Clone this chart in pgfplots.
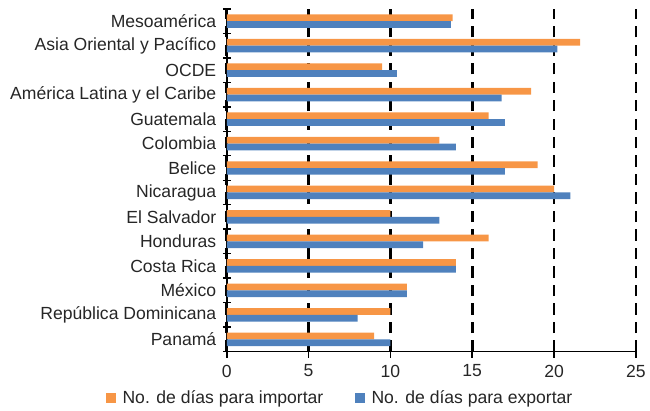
\documentclass[border=0pt]{standalone}
\usepackage{fontspec}
\setmainfont{Liberation Sans}
\usepackage{pgfplots}
\pgfplotsset{compat=1.18}

\definecolor{importar}{RGB}{247,150,70}
\definecolor{exportar}{RGB}{79,129,189}
\definecolor{txt}{RGB}{38,38,38}
\newcommand\lblfont{\fontsize{13.3pt}{16pt}\selectfont}

\begin{document}
\begin{tikzpicture}
\begin{axis}[
    name=ax,
    scale only axis,
    width=309.75pt, height=259.5pt,
    xmin=0, xmax=25, ymin=-0.5, ymax=13.5,
    axis x line=bottom, axis y line=left,
    axis line style={-, black, line width=1.1pt},
    xtick={0,5,...,25},
    ytick={0,...,13},
    yticklabels={Panamá, República Dominicana, México, Costa Rica, Honduras,
        El Salvador, Nicaragua, Belice, Colombia, Guatemala,
        América Latina y el Caribe, OCDE, Asia Oriental y Pacífico, Mesoamérica},
    minor ytick={-0.5,0.5,...,13.5},
    tick align=center,
    major tick length=9pt, minor tick length=6pt,
    major x tick style={black, line width=1.1pt},
    major y tick style={draw=none},
    minor y tick style={black, line width=1.1pt},
    xmajorgrids,
    major grid style={black, line width=2pt, dash pattern=on 8.5pt off 5.5pt},
    /pgf/number format/assume math mode=true,
    x tick label style={font=\lblfont, text=txt, yshift=-2pt},
    y tick label style={font=\lblfont, text=txt},
    legend style={at={(0.278,-0.136)}, anchor=center, draw=none,
        legend columns=2, font=\lblfont, text=txt,
        /tikz/every odd column/.append style={column sep=3pt},
        /tikz/every even column/.append style={column sep=22pt}},
    legend cell align=left,
]
% importar (top bar of each pair)
\addplot[xbar, bar width=5.1pt, bar shift=2.55pt, fill=importar, draw=none,
    legend image code/.code={\fill[importar] (0pt,-3.75pt) rectangle (7.5pt,3.75pt);}]
coordinates {
    (13.8,13) (21.6,12) (9.5,11) (18.6,10) (16,9) (13,8) (19,7)
    (20,6) (10,5) (16,4) (14,3) (11,2) (10,1) (9,0)
};
% exportar (bottom bar of each pair)
\addplot[xbar, bar width=5.1pt, bar shift=-2.55pt, fill=exportar, draw=none,
    legend image code/.code={\fill[exportar] (0pt,-3.75pt) rectangle (7.5pt,3.75pt);}]
coordinates {
    (13.7,13) (20.2,12) (10.4,11) (16.8,10) (17,9) (14,8) (17,7)
    (21,6) (13,5) (12,4) (14,3) (11,2) (8,1) (10,0)
};
\legend{No. de días para importar, No. de días para exportar}
\end{axis}
\path (ax.south west) ++(-171.75pt,-42.75pt) coordinate (bl);
\path (ax.north east) ++(6pt,6.75pt) coordinate (tr);
\path (bl) rectangle (tr);
\end{tikzpicture}
\end{document}
